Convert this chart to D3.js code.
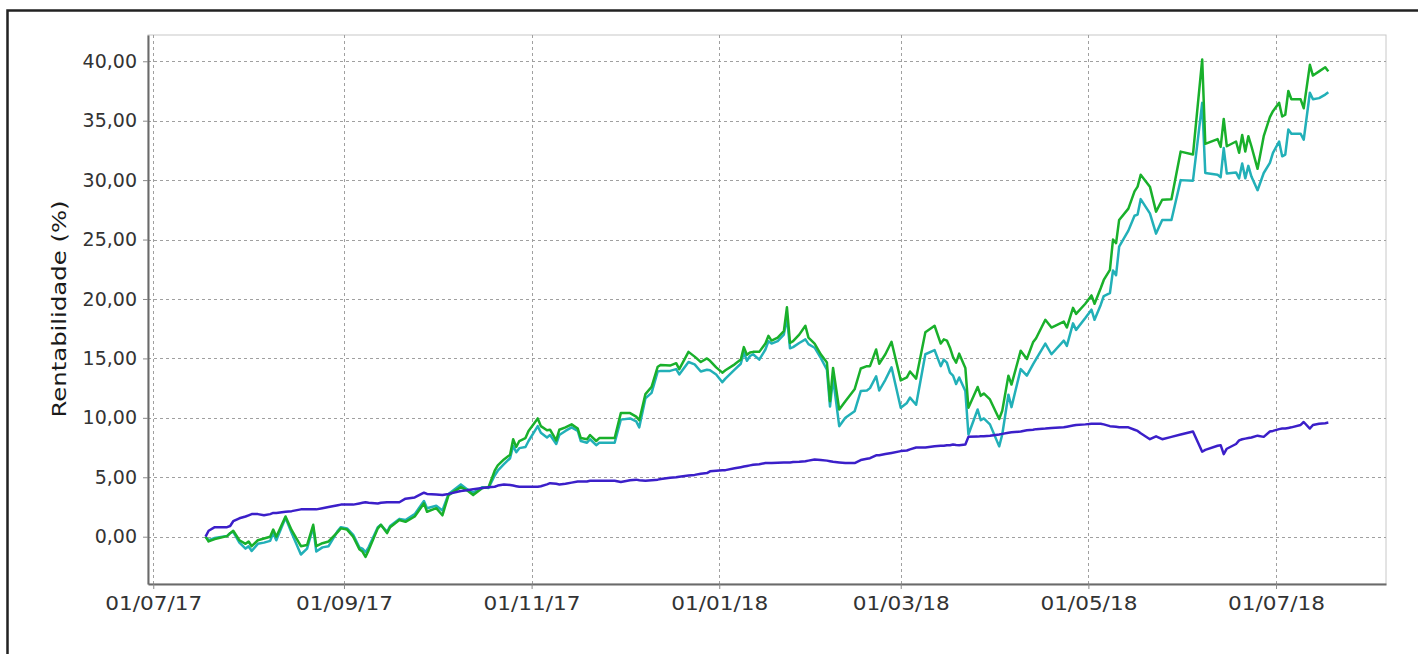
<!DOCTYPE html>
<html>
<head>
<meta charset="utf-8">
<script src="https://cdn.jsdelivr.net/npm/d3@7"></script>
<style>
  html, body { margin: 0; padding: 0; background: #fff; }
  svg { display: block; font-family: "DejaVu Sans", sans-serif; }
</style>
</head>
<body>
<svg id="chart" width="1418" height="654"></svg>
<script>
// dates of the samples
const dates = [
  "2017-07-18","2017-07-19","2017-07-21","2017-07-25","2017-07-26","2017-07-27","2017-07-29","2017-07-31",
  "2017-08-01","2017-08-02","2017-08-04","2017-08-06","2017-08-08","2017-08-09","2017-08-10","2017-08-13",
  "2017-08-15","2017-08-18","2017-08-20","2017-08-22","2017-08-23","2017-08-25","2017-08-27","2017-08-30",
  "2017-08-31","2017-09-02","2017-09-04","2017-09-06","2017-09-07","2017-09-08","2017-09-09","2017-09-12",
  "2017-09-13","2017-09-15","2017-09-16","2017-09-19","2017-09-21","2017-09-24","2017-09-27","2017-09-28",
  "2017-10-01","2017-10-03","2017-10-05","2017-10-09","2017-10-11","2017-10-13","2017-10-16","2017-10-18",
  "2017-10-20","2017-10-21","2017-10-23","2017-10-25","2017-10-26","2017-10-27","2017-10-28","2017-10-30",
  "2017-10-31","2017-11-03","2017-11-04","2017-11-06","2017-11-07","2017-11-09","2017-11-10","2017-11-12",
  "2017-11-14","2017-11-16","2017-11-17","2017-11-19","2017-11-20","2017-11-22","2017-11-23","2017-11-28",
  "2017-11-30","2017-12-03","2017-12-05","2017-12-06","2017-12-08","2017-12-10","2017-12-12","2017-12-13",
  "2017-12-16","2017-12-18","2017-12-19","2017-12-22","2017-12-24","2017-12-26","2017-12-28","2017-12-29",
  "2017-12-31","2018-01-02","2018-01-03","2018-01-06","2018-01-08","2018-01-09","2018-01-10","2018-01-11",
  "2018-01-12","2018-01-14","2018-01-16","2018-01-17","2018-01-18","2018-01-20","2018-01-22","2018-01-23",
  "2018-01-24","2018-01-25","2018-01-27","2018-01-29","2018-01-30","2018-02-01","2018-02-03","2018-02-05",
  "2018-02-06","2018-02-07","2018-02-09","2018-02-11","2018-02-14","2018-02-16","2018-02-18","2018-02-19",
  "2018-02-21","2018-02-22","2018-02-24","2018-02-26","2018-03-01","2018-03-03","2018-03-04","2018-03-06",
  "2018-03-09","2018-03-12","2018-03-14","2018-03-15","2018-03-16","2018-03-17","2018-03-18","2018-03-19",
  "2018-03-20","2018-03-22","2018-03-23","2018-03-26","2018-03-27","2018-03-28","2018-03-30","2018-04-02",
  "2018-04-03","2018-04-05","2018-04-06","2018-04-09","2018-04-11","2018-04-13","2018-04-14","2018-04-17",
  "2018-04-19","2018-04-23","2018-04-24","2018-04-26","2018-04-27","2018-04-30","2018-05-02","2018-05-03",
  "2018-05-05","2018-05-06","2018-05-08","2018-05-09","2018-05-10","2018-05-11","2018-05-14","2018-05-16",
  "2018-05-17","2018-05-18","2018-05-21","2018-05-23","2018-05-25","2018-05-28","2018-05-31","2018-06-04",
  "2018-06-07","2018-06-08","2018-06-12","2018-06-13","2018-06-14","2018-06-15","2018-06-18","2018-06-19",
  "2018-06-20","2018-06-21","2018-06-22","2018-06-23","2018-06-25","2018-06-27","2018-06-29","2018-06-30",
  "2018-07-02","2018-07-03","2018-07-04","2018-07-05","2018-07-06","2018-07-09","2018-07-10","2018-07-12",
  "2018-07-13","2018-07-15","2018-07-17","2018-07-18"
];

// green line (%)
const fundo = [
  0, -0.4, -0.2, 0.05, 0.3, 0.5, -0.3, -0.6,
  -0.4, -0.8, -0.3, -0.15, 0, 0.6, 0, 1.7,
  0.55, -0.8, -0.7, 1.0, -0.8, -0.55, -0.4, 0.4,
  0.7, 0.6, 0, -1.05, -1.25, -1.7, -1.15, 0.7,
  1.0, 0.3, 0.8, 1.4, 1.25, 1.7, 2.8, 2.1,
  2.4, 1.8, 3.5, 4.17, 3.9, 3.5, 4.1, 4.17,
  5.55, 6.0, 6.5, 6.9, 8.2, 7.55, 8.05, 8.3,
  8.9, 9.95, 9.3, 8.95, 9.0, 8.1, 9.0, 9.2,
  9.45, 9.1, 8.3, 8.2, 8.55, 8.05, 8.3, 8.3,
  10.4, 10.4, 10.1, 9.8, 12.0, 12.6, 14.3, 14.45,
  14.4, 14.6, 14.1, 15.55, 15.15, 14.7, 15.0, 14.8,
  14.25, 13.8, 14.0, 14.5, 14.9, 15.95, 15.3, 15.5,
  15.55, 15.55, 16.25, 16.9, 16.5, 16.75, 17.3, 19.3,
  16.3, 16.45, 17.0, 17.75, 16.75, 16.25, 15.35, 14.65,
  11.4, 14.2, 10.7, 11.4, 12.4, 14.15, 14.35, 14.35,
  15.75, 14.55, 15.35, 16.4, 13.15, 13.4, 13.9, 13.3,
  17.2, 17.75, 16.25, 16.6, 16.5, 15.9, 15.1, 14.65,
  15.4, 14.2, 10.85, 12.6, 11.85, 12.05, 11.55, 9.9,
  10.6, 13.55, 12.8, 15.65, 14.95, 16.35, 16.7, 18.25,
  17.6, 18.1, 17.6, 19.25, 18.75, 19.6, 20.3, 19.6,
  20.9, 21.6, 22.45, 25.0, 24.7, 26.65, 27.6, 29.05,
  29.45, 30.45, 29.45, 27.35, 28.35, 28.4, 32.4, 32.15,
  40.15, 33.05, 33.45, 32.8, 35.15, 32.85, 33.25, 32.3,
  33.8, 32.4, 33.7, 32.85, 30.95, 33.7, 35.3, 35.8,
  36.5, 35.35, 35.5, 37.5, 36.8, 36.8, 36.05, 39.7,
  38.8, 39.15, 39.5, 39.15
];

// teal line (%)
const indice = [
  0, -0.3, -0.1, 0.05, 0.3, 0.4, -0.5, -1.0,
  -0.8, -1.2, -0.6, -0.5, -0.35, 0.3, -0.3, 1.6,
  0.3, -1.5, -1.0, 0.8, -1.25, -0.9, -0.8, 0.5,
  0.8, 0.7, 0.15, -0.9, -1.0, -1.3, -0.9, 0.8,
  1.0, 0.4, 0.9, 1.5, 1.4, 1.9, 3.0, 2.4,
  2.6, 2.2, 3.6, 4.4, 4.0, 3.7, 4.17, 4.1,
  5.15, 5.55, 6.1, 6.6, 7.65, 7.1, 7.45, 7.55,
  8.05, 9.3, 8.75, 8.35, 8.55, 7.8, 8.55, 8.9,
  9.2, 8.9, 8.05, 7.9, 8.2, 7.7, 7.9, 7.9,
  9.85, 9.95, 9.7, 9.2, 11.65, 12.1, 13.9, 13.95,
  13.95, 14.1, 13.65, 14.7, 14.5, 13.9, 14.05, 14.0,
  13.65, 13.0, 13.3, 14.05, 14.55, 15.5, 14.8, 15.2,
  15.35, 14.9, 15.75, 16.45, 16.25, 16.45, 17.0, 18.45,
  15.85, 15.95, 16.3, 16.6, 16.2, 15.9, 15.05, 14.05,
  10.95, 13.35, 9.3, 10.0, 10.55, 12.25, 12.3, 12.5,
  13.5, 12.3, 13.2, 14.25, 10.85, 11.25, 11.7, 11.1,
  15.35, 15.7, 14.35, 14.9, 14.65, 13.8, 13.55, 12.85,
  13.4, 12.25, 8.6, 10.7, 9.8, 9.95, 9.45, 7.6,
  8.6, 11.95, 10.9, 14.1, 13.55, 14.5, 14.95, 16.25,
  15.35, 16.5, 16.05, 17.95, 17.4, 18.4, 19.1, 18.25,
  19.5, 20.25, 20.5, 22.4, 22.0, 24.4, 25.75, 27.0,
  27.1, 28.4, 27.2, 25.5, 26.65, 26.65, 30.0, 29.95,
  36.5, 30.6, 30.45, 30.25, 32.7, 30.55, 30.65, 30.15,
  31.4, 30.15, 31.2, 30.3, 29.15, 30.6, 31.45, 32.3,
  33.25, 32.0, 32.15, 34.25, 33.9, 33.9, 33.4, 37.35,
  36.8, 36.9, 37.2, 37.4
];

// purple line (%)
const cdi = [
  0, 0.5, 0.8, 0.8, 0.9, 1.3, 1.55, 1.7,
  1.8, 1.9, 1.9, 1.8, 1.9, 2.0, 2.0, 2.1,
  2.15, 2.3, 2.3, 2.3, 2.3, 2.4, 2.5, 2.65,
  2.7, 2.7, 2.7, 2.8, 2.85, 2.9, 2.85, 2.8,
  2.85, 2.9, 2.9, 2.9, 3.2, 3.3, 3.7, 3.6,
  3.55, 3.5, 3.6, 3.85, 3.9, 4.0, 4.1, 4.15,
  4.2, 4.3, 4.4, 4.35, 4.3, 4.25, 4.2, 4.2,
  4.2, 4.2, 4.25, 4.4, 4.5, 4.45, 4.4, 4.45,
  4.55, 4.65, 4.65, 4.65, 4.7, 4.7, 4.7, 4.7,
  4.6, 4.75, 4.8, 4.75, 4.7, 4.75, 4.8, 4.85,
  4.95, 5.0, 5.05, 5.15, 5.2, 5.3, 5.35, 5.5,
  5.55, 5.6, 5.6, 5.75, 5.85, 5.9, 5.95, 6.0,
  6.05, 6.1, 6.2, 6.2, 6.2, 6.22, 6.25, 6.25,
  6.25, 6.28, 6.3, 6.35, 6.4, 6.5, 6.45, 6.4,
  6.35, 6.3, 6.25, 6.2, 6.2, 6.45, 6.55, 6.6,
  6.85, 6.85, 6.95, 7.05, 7.2, 7.25, 7.35, 7.5,
  7.5, 7.6, 7.65, 7.65, 7.7, 7.7, 7.75, 7.72,
  7.7, 7.75, 8.4, 8.42, 8.45, 8.45, 8.5, 8.6,
  8.65, 8.75, 8.78, 8.85, 8.95, 9.0, 9.05, 9.1,
  9.15, 9.2, 9.25, 9.35, 9.4, 9.45, 9.5, 9.5,
  9.5, 9.45, 9.3, 9.28, 9.25, 9.2, 9.2, 9.0,
  8.9, 8.7, 8.2, 8.45, 8.2, 8.4, 8.6, 8.85,
  7.15, 7.3, 7.65, 7.7, 6.95, 7.4, 7.8, 8.1,
  8.2, 8.25, 8.3, 8.35, 8.5, 8.4, 8.85, 8.9,
  9.05, 9.1, 9.1, 9.15, 9.2, 9.4, 9.65, 9.1,
  9.4, 9.5, 9.55, 9.6
];

const yTicks = [0, 5, 10, 15, 20, 25, 30, 35, 40];
const yLabel = "Rentabilidade (%)";

// Layout
let width = 1418, height = 654;
let plot = {left: 148, right: 1386, top: 35, bottom: 584};

let colors = {fundo: "#19b02b", indice: "#22b0b8", cdi: "#3b1fc9"};

const svg = d3.select("#chart");
const parse = d3.utcParse("%Y-%m-%d");
const ptBR = d3.formatLocale({decimal: ",", thousands: ".", grouping: [3], currency: ["R$", ""]});

let xScale = d3.scaleUtc()
    .domain([new Date(Date.UTC(2017, 5, 29, 7)), new Date(Date.UTC(2018, 7, 5, 18))])
    .range([plot.left, plot.right]);

let yScale = d3.scaleLinear()
    .domain([-3.98, 42.21])
    .range([plot.bottom, plot.top]);

let xTicks = d3.utcMonth.every(2).range(new Date(Date.UTC(2017, 6, 1)), new Date(Date.UTC(2018, 7, 1)));

svg.append("rect").attr("width", width).attr("height", height).attr("fill", "#fff");

// outer frame
svg.append("rect")
    .attr("x", 7.5).attr("y", 10.5)
    .attr("width", width + 20).attr("height", height + 20)
    .attr("fill", "none").attr("stroke", "#222").attr("stroke-width", 2.5);

// plot border (top/right)
svg.append("rect")
    .attr("x", plot.left).attr("y", plot.top)
    .attr("width", plot.right - plot.left).attr("height", plot.bottom - plot.top)
    .attr("fill", "none").attr("stroke", "#c8c8c8").attr("stroke-width", 1);

// grid
let grid = svg.append("g").attr("class", "grid");
grid.selectAll("line.h").data(yTicks).enter().append("line")
    .attr("x1", plot.left).attr("x2", plot.right)
    .attr("y1", d => Math.round(yScale(d)) + 0.5).attr("y2", d => Math.round(yScale(d)) + 0.5);
grid.selectAll("line.v").data(xTicks).enter().append("line")
    .attr("y1", plot.top).attr("y2", plot.bottom)
    .attr("x1", d => Math.round(xScale(d)) + 0.5).attr("x2", d => Math.round(xScale(d)) + 0.5);
grid.selectAll("line")
    .attr("stroke", "#a0a0a0").attr("stroke-width", 1).attr("stroke-dasharray", "3,3");

// series
let series = [
    {name: "indice", values: indice},
    {name: "fundo", values: fundo},
    {name: "cdi", values: cdi},
];

let line = d3.line()
    .x((d, i) => xScale(parse(dates[i])))
    .y(d => yScale(d));

svg.append("g").selectAll("path")
    .data(series).enter().append("path")
    .attr("d", d => line(d.values))
    .attr("fill", "none")
    .attr("stroke", d => colors[d.name])
    .attr("stroke-width", 2.5)
    .attr("stroke-linejoin", "round");

// axes
let yAxis = svg.append("g")
    .attr("transform", "translate(" + plot.left + ",0)")
    .call(d3.axisLeft(yScale).tickValues(yTicks).tickSize(5).tickSizeOuter(0).tickPadding(6)
        .tickFormat(ptBR.format(".2f")));

let xAxis = svg.append("g")
    .attr("transform", "translate(0," + plot.bottom + ")")
    .call(d3.axisBottom(xScale).tickValues(xTicks).tickSize(5).tickSizeOuter(0).tickPadding(8)
        .tickFormat(d3.utcFormat("%d/%m/%y")));

[yAxis, xAxis].forEach(ax => {
    ax.select(".domain").attr("stroke", "#6a6a6a").attr("stroke-width", 2);
    ax.selectAll(".tick line").attr("stroke", "#8a8a8a");
    ax.selectAll("text")
        .attr("fill", "#333")
        .style("font-family", "'DejaVu Sans', sans-serif")
        .style("font-size", "19px");
});

xAxis.selectAll("text")
    .attr("textLength", 97)
    .attr("lengthAdjust", "spacingAndGlyphs");

// y label
svg.append("text")
    .attr("transform", "translate(66,309) rotate(-90)")
    .attr("text-anchor", "middle")
    .attr("fill", "#1a1a1a")
    .style("font-size", "20px")
    .attr("textLength", 217)
    .attr("lengthAdjust", "spacingAndGlyphs")
    .text(yLabel);
</script>
</body>
</html>
